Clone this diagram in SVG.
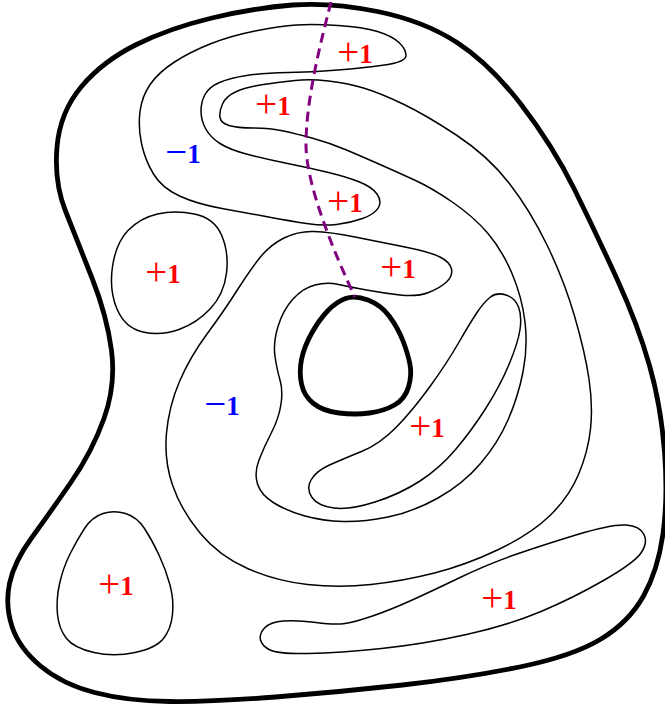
<svg xmlns="http://www.w3.org/2000/svg" width="665" height="708" viewBox="0 0 665 708">
<style>
.thin{fill:none;stroke:#000;stroke-width:1.5;stroke-linejoin:round}
.thick{fill:none;stroke:#000;stroke-width:4.8;stroke-linejoin:round}
.cut{fill:none;stroke:#800080;stroke-width:3;stroke-dasharray:10 6}
text{text-anchor:middle}
.s{font-family:"Liberation Serif","Times New Roman",serif;font-size:39px;font-weight:normal}
.d{font-family:"Liberation Serif","Times New Roman",serif;font-size:27px;font-weight:bold}
.p{fill:#ff0000}
.m{fill:#0000ff}
</style>
<rect width="665" height="708" fill="#fff"/>
<g id="outer-boundary">
<path class="thick" d="M292.5,5 Q331,2 377.5,11.5 Q424,21 457,42.5 Q490,64 521.5,105 Q553,146 574.5,189.5 Q596,233 617,279 Q638,325 649.5,365.5 Q661,406 664.5,451.5 Q668,497 663,533.5 Q658,570 643.5,596 Q629,622 601,639 Q573,656 519.5,667 Q466,678 402.5,685 Q339,692 275.5,697 Q212,702 169.5,701.5 Q127,701 94.5,692.5 Q62,684 40.5,666 Q19,648 12,626.5 Q5,605 9.5,583.5 Q14,562 31.5,538 Q49,514 70.5,483 Q92,452 104,418.5 Q116,385 111.5,350.5 Q107,316 92,278 Q77,240 65.5,211 Q54,182 57,147 Q60,112 81.5,86.5 Q103,61 136.5,44.5 Q170,28 212,18 Q254,8 292.5,5 Z"/>
</g>
<g id="inner-boundary">
<path class="thick" d="M345.5,298.5 Q355,295 368,300 Q381,305 389.5,316.5 Q398,328 403,341 Q408,354 410,364.5 Q412,375 408.5,387 Q405,399 394.5,405 Q384,411 369.5,413 Q355,415 339,413 Q323,411 313.5,403.5 Q304,396 301.5,384 Q299,372 301.5,359.5 Q304,347 311.5,333.5 Q319,320 327.5,311 Q336,302 345.5,298.5 Z"/>
</g>
<g id="curve-s">
<path class="thin" d="M406,55.5 Q406,62 384.5,65 Q363,68 338,70 Q313,72 288,72.5 Q263,73 246.5,75.5 Q230,78 219.5,82.5 Q209,87 205,94.5 Q201,102 201,111 Q201,120 205.5,128.5 Q210,137 220,143.5 Q230,150 250,155 Q270,160 290,164 Q310,168 328.5,172.5 Q347,177 359.5,182 Q372,187 377,194 Q382,201 378.5,207.5 Q375,214 362.5,218.5 Q350,223 336.5,224.5 Q323,226 306.5,223.5 Q290,221 268.5,217 Q247,213 222,208.5 Q197,204 179.5,196 Q162,188 153.5,174 Q145,160 141.5,143.5 Q138,127 140,111.5 Q142,96 150.5,84 Q159,72 174.5,62 Q190,52 210,44 Q230,36 255,31 Q280,26 296.5,25 Q313,24 338,25.5 Q363,27 377.5,31.5 Q392,36 399,42.5 Q406,49 406,55.5 Z"/>
</g>
<g id="curve-spiral">
<path class="thin" d="M220,117.5 Q219,112 222.5,104 Q226,96 236.5,91.5 Q247,87 263.5,84.5 Q280,82 295,80.5 Q310,79 328.5,81 Q347,83 363.5,88 Q380,93 403,104 Q426,115 457,135.5 Q488,156 509,183 Q530,210 547,245 Q564,280 574.5,316 Q585,352 589,379 Q593,406 590.5,429 Q588,452 578.5,474.5 Q569,497 550,515.5 Q531,534 498.5,549.5 Q466,565 434.5,573 Q403,581 371,584.5 Q339,588 307.5,584.5 Q276,581 247.5,568.5 Q219,556 200,533 Q181,510 172.5,485 Q164,460 166.5,433 Q169,406 179.5,381.5 Q190,357 207,334 Q224,311 237,290.5 Q250,270 260,257.5 Q270,245 284,238 Q298,231 314,231.5 Q330,232 355,237 Q380,242 405,247 Q430,252 440,257 Q450,262 451.5,269 Q453,276 446.5,282 Q440,288 428.5,292.5 Q417,297 400,295 Q383,293 366.5,290 Q350,287 338.5,284.5 Q327,282 315,285 Q303,288 293,299 Q283,310 278,326.5 Q273,343 275,356.5 Q277,370 280,380 Q283,390 281,404 Q279,418 271.5,432.5 Q264,447 259,460 Q254,473 257.5,484 Q261,495 274,503 Q287,511 305,516 Q323,521 343,521.5 Q363,522 388,517 Q413,512 438,498 Q463,484 480.5,463.5 Q498,443 508,420 Q518,397 523,372 Q528,347 525,322 Q522,297 512,273.5 Q502,250 488,233.5 Q474,217 453,202.5 Q432,188 414.5,180 Q397,172 380,164.5 Q363,157 346.5,150 Q330,143 313.5,138.5 Q297,134 283.5,131 Q270,128 253.5,128 Q237,128 229,125.5 Q221,123 220,117.5 Z"/>
</g>
<g id="curve-band-right">
<path class="thin" d="M490.5,297 Q497,292 506,295 Q515,298 518.5,307 Q522,316 520,329.5 Q518,343 509,364.5 Q500,386 486,408 Q472,430 456,449 Q440,468 420,481 Q400,494 375,502 Q350,510 334,508 Q318,506 312,497.5 Q306,489 311,480 Q316,471 329.5,465 Q343,459 361.5,451.5 Q380,444 396.5,427 Q413,410 430,386.5 Q447,363 458.5,343 Q470,323 477,312.5 Q484,302 490.5,297 Z"/>
</g>
<g id="curve-blob-left">
<path class="thin" d="M157.5,214 Q175,210 194.5,214 Q214,218 221.5,235 Q229,252 226.5,273 Q224,294 210.5,308.5 Q197,323 179,329.5 Q161,336 143,332 Q125,328 117,309 Q109,290 112.5,266.5 Q116,243 128,230.5 Q140,218 157.5,214 Z"/>
</g>
<g id="curve-egg">
<path class="thin" d="M103,513.5 Q114,510 125.5,513.5 Q137,517 144.5,528.5 Q152,540 159,555 Q166,570 170,585 Q174,600 172.5,614.5 Q171,629 163.5,638.5 Q156,648 135,652.5 Q114,657 94,652.5 Q74,648 66.5,638.5 Q59,629 57.5,614.5 Q56,600 59.5,584 Q63,568 70,554 Q77,540 84.5,528.5 Q92,517 103,513.5 Z"/>
</g>
<g id="curve-band-bottom">
<path class="thin" d="M260.5,640 Q259,634 264.5,628 Q270,622 283.5,621 Q297,620 316,622.5 Q335,625 345,623.5 Q355,622 372.5,616 Q390,610 410,601 Q430,592 459,578 Q488,564 515.5,554.5 Q543,545 577.5,534.5 Q612,524 626,525 Q640,526 644,534.5 Q648,543 641,553 Q634,563 603.5,580.5 Q573,598 541,611.5 Q509,625 466.5,634.5 Q424,644 381.5,648.5 Q339,653 308.5,653.5 Q278,654 270,650 Q262,646 260.5,640 Z"/>
</g>
<g id="connectors">
<path class="cut" d="M331,2 C320,45 306,100 306,145 C306,185 335,255 355,297"/>
</g>
<g id="labels">
<text class="p" x="355" y="63"><tspan class="s" dy="1.5">+</tspan><tspan class="d" dy="-1.5">1</tspan></text>
<text class="p" x="273" y="115"><tspan class="s" dy="1.5">+</tspan><tspan class="d" dy="-1.5">1</tspan></text>
<text class="m" x="183" y="163"><tspan class="s" dy="1.5">−</tspan><tspan class="d" dy="-1.5">1</tspan></text>
<text class="p" x="345" y="212"><tspan class="s" dy="1.5">+</tspan><tspan class="d" dy="-1.5">1</tspan></text>
<text class="p" x="398" y="278"><tspan class="s" dy="1.5">+</tspan><tspan class="d" dy="-1.5">1</tspan></text>
<text class="p" x="427" y="437"><tspan class="s" dy="1.5">+</tspan><tspan class="d" dy="-1.5">1</tspan></text>
<text class="m" x="222" y="415"><tspan class="s" dy="1.5">−</tspan><tspan class="d" dy="-1.5">1</tspan></text>
<text class="p" x="163" y="283"><tspan class="s" dy="1.5">+</tspan><tspan class="d" dy="-1.5">1</tspan></text>
<text class="p" x="116" y="595"><tspan class="s" dy="1.5">+</tspan><tspan class="d" dy="-1.5">1</tspan></text>
<text class="p" x="499" y="609"><tspan class="s" dy="1.5">+</tspan><tspan class="d" dy="-1.5">1</tspan></text>
</g>
</svg>
